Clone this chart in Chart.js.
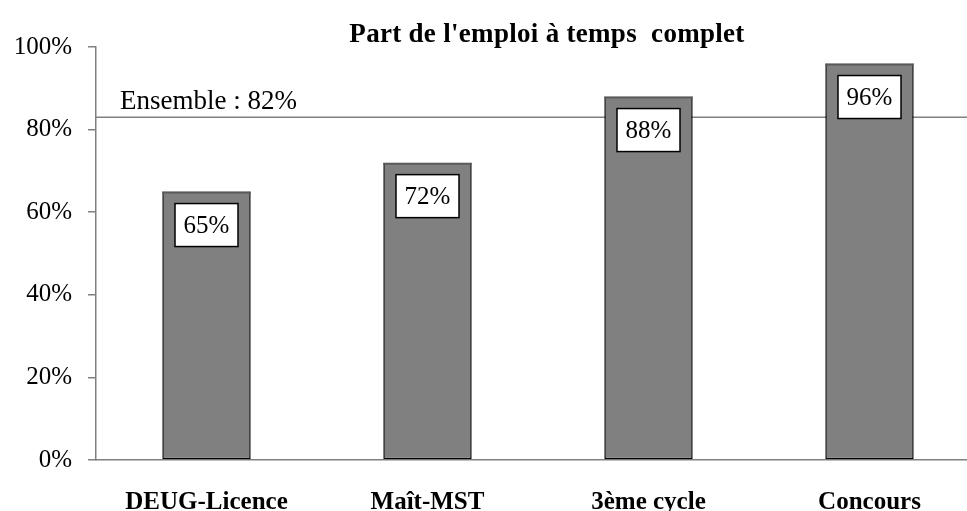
<!DOCTYPE html>
<html>
<head>
<meta charset="utf-8">
<script src="https://cdn.jsdelivr.net/npm/chart.js@4/dist/chart.umd.min.js"></script>
<style>
  html, body { margin: 0; padding: 0; background: #fff; overflow: hidden; width: 967px; height: 511px; }
  canvas { display: block; }
</style>
</head>
<body>
<canvas id="myChart" width="990" height="511"></canvas>
<script>
const categories = ['DEUG-Licence', 'Maît-MST', '3ème cycle', 'Concours'];
const shareValues = [65, 72, 88, 96];
const shareLabels = ['65%', '72%', '88%', '96%'];
const ensembleValue = 83;
const ensembleText = 'Ensemble : 82%';
const chartTitle = "Part de l'emploi à temps  complet";

const serif = '"Liberation Serif", "Times New Roman", serif';

// title, reference line and boxed value labels are drawn by hand on the canvas
const overlayPlugin = {
  id: 'overlay',
  beforeDatasetsDraw(chart) {
    const { ctx, chartArea, scales } = chart;
    const y = scales.y.getPixelForValue(ensembleValue);
    ctx.save();
    ctx.strokeStyle = '#808080';
    ctx.lineWidth = 1.5;
    ctx.beginPath();
    ctx.moveTo(chartArea.left, y);
    ctx.lineTo(chart.width, y);
    ctx.stroke();
    ctx.fillStyle = '#000';
    ctx.font = '27px ' + serif;
    ctx.textAlign = 'left';
    ctx.textBaseline = 'alphabetic';
    ctx.fillText(ensembleText, 120, y - 8);
    ctx.restore();
  },
  afterDatasetsDraw(chart) {
    const { ctx } = chart;
    const meta = chart.getDatasetMeta(0);
    ctx.save();
    meta.data.forEach((bar, i) => {
      const w = 63, h = 43;
      const x0 = bar.x - w / 2;
      const y0 = bar.y + 12;
      // darker top edge of the bar
      ctx.strokeStyle = '#5a5a5a';
      ctx.lineWidth = 2;
      ctx.beginPath();
      ctx.moveTo(bar.x - bar.width / 2, bar.y + 1);
      ctx.lineTo(bar.x + bar.width / 2, bar.y + 1);
      ctx.stroke();
      ctx.fillStyle = '#fff';
      ctx.fillRect(x0, y0, w, h);
      ctx.strokeStyle = '#000';
      ctx.lineWidth = 1.5;
      ctx.strokeRect(x0, y0, w, h);
      ctx.fillStyle = '#000';
      ctx.font = '25px ' + serif;
      ctx.textAlign = 'center';
      ctx.textBaseline = 'middle';
      ctx.fillText(shareLabels[i], bar.x, y0 + h / 2 + 1);
    });
    ctx.font = 'bold 27px ' + serif;
    ctx.textAlign = 'center';
    ctx.textBaseline = 'alphabetic';
    if ('letterSpacing' in ctx) ctx.letterSpacing = '0.3px';
    ctx.fillText(chartTitle, 547, 42);
    ctx.restore();
  }
};

new Chart(document.getElementById('myChart'), {
  type: 'bar',
  data: {
    labels: categories,
    datasets: [{
      data: shareValues,
      backgroundColor: '#808080',
      borderColor: '#000',
      borderWidth: { top: 0, left: 1.5, right: 1.5, bottom: 1.5 },
      borderSkipped: false,
      categoryPercentage: 1,
      barPercentage: 0.4
    }]
  },
  options: {
    responsive: false,
    animation: false,
    layout: { padding: { top: 47, right: 10, bottom: 0, left: 0 } },
    plugins: {
      legend: { display: false },
      tooltip: { enabled: false }
    },
    scales: {
      x: {
        grid: { display: false },
        border: { display: true, color: '#808080', width: 1.5 },
        ticks: {
          color: '#000',
          padding: 20,
          maxRotation: 0,
          font: { family: serif, size: 25, weight: 'bold' }
        },
        afterFit(scale) { scale.height = 51; }
      },
      y: {
        min: 0,
        max: 100,
        grid: { drawOnChartArea: false, drawTicks: true, tickLength: 8, color: '#808080', lineWidth: 1.5 },
        border: { display: true, color: '#808080', width: 1.5 },
        ticks: {
          stepSize: 20,
          color: '#000',
          padding: 16,
          font: { family: serif, size: 25 },
          callback: v => v + '%'
        },
        afterFit(scale) { scale.width = 96; }
      }
    }
  },
  plugins: [overlayPlugin]
});
</script>
</body>
</html>
